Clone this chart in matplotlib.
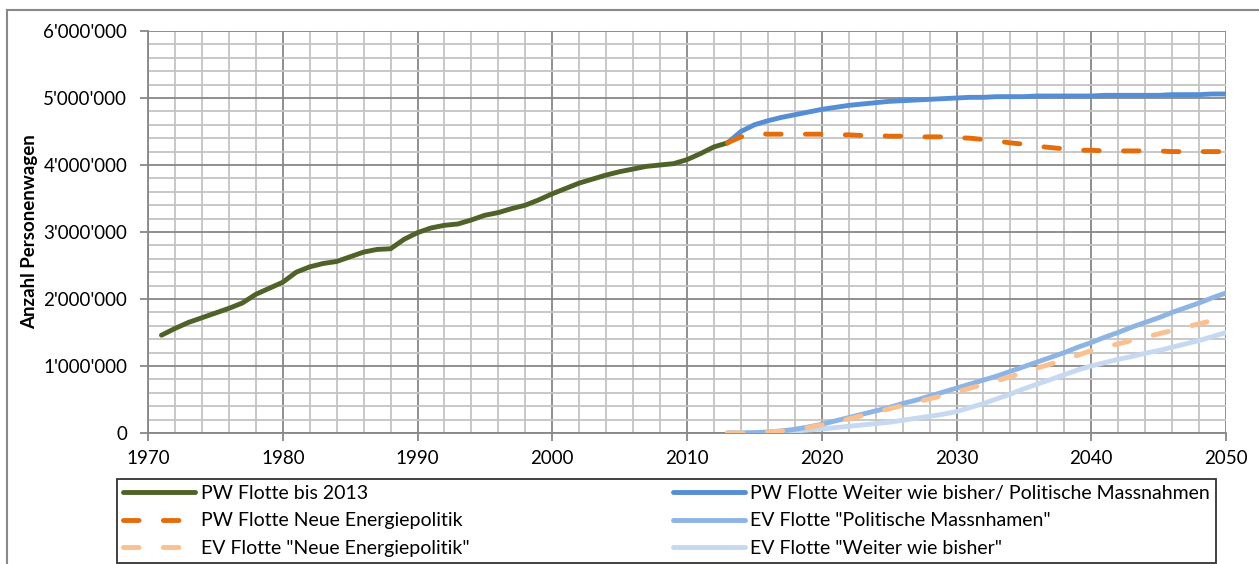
import numpy as np
import matplotlib
matplotlib.use("Agg")
import matplotlib.pyplot as plt
from matplotlib.ticker import FuncFormatter, MultipleLocator
from matplotlib.lines import Line2D

plt.rcParams['font.family'] = ['Lato', 'DejaVu Sans']

# historic fleet 1971-2013
hist_years = list(range(1971, 2014))
hist_fleet = [1.46, 1.56, 1.65, 1.72, 1.79, 1.86, 1.94, 2.07, 2.16, 2.25,
              2.40, 2.48, 2.53, 2.56, 2.63, 2.70, 2.74, 2.75, 2.89, 2.99,
              3.06, 3.10, 3.12, 3.18, 3.25, 3.29, 3.35, 3.40, 3.48, 3.57,
              3.65, 3.73, 3.79, 3.85, 3.90, 3.94, 3.98, 4.00, 4.02, 4.08,
              4.17, 4.27, 4.33]

# scenarios 2013-2050
proj_years = list(range(2013, 2051))
pw_weiter = [4.33, 4.50, 4.60, 4.66, 4.71, 4.75, 4.79, 4.83, 4.86, 4.89,
             4.91, 4.93, 4.95, 4.96, 4.97, 4.98, 4.99, 5.00, 5.01, 5.01,
             5.02, 5.02, 5.02, 5.03, 5.03, 5.03, 5.03, 5.03, 5.04, 5.04,
             5.04, 5.04, 5.04, 5.05, 5.05, 5.05, 5.06, 5.06]
pw_neue = [4.33, 4.42, 4.47, 4.46, 4.46, 4.46, 4.46, 4.46, 4.45, 4.45,
           4.44, 4.44, 4.43, 4.43, 4.42, 4.42, 4.42, 4.41, 4.40, 4.38,
           4.36, 4.33, 4.31, 4.28, 4.26, 4.24, 4.22, 4.22, 4.21, 4.21,
           4.21, 4.21, 4.21, 4.20, 4.20, 4.20, 4.20, 4.20]
ev_polit = [0.0, 0.0, 0.005, 0.015, 0.03, 0.055, 0.09, 0.13, 0.18, 0.23,
            0.28, 0.33, 0.38, 0.44, 0.49, 0.55, 0.61, 0.67, 0.73, 0.79,
            0.85, 0.92, 0.99, 1.06, 1.13, 1.20, 1.28, 1.35, 1.43, 1.50,
            1.58, 1.65, 1.72, 1.80, 1.87, 1.94, 2.02, 2.09]
ev_neue = [0.0, 0.0, 0.005, 0.015, 0.03, 0.05, 0.085, 0.12, 0.165, 0.21,
           0.26, 0.31, 0.36, 0.41, 0.46, 0.51, 0.56, 0.61, 0.67, 0.72,
           0.78, 0.84, 0.905, 0.97, 1.03, 1.10, 1.16, 1.23, 1.28, 1.33,
           1.38, 1.43, 1.48, 1.53, 1.58, 1.63, 1.68, 1.72]
ev_weiter = [0.0, 0.0, 0.005, 0.01, 0.02, 0.03, 0.045, 0.06, 0.08, 0.10,
             0.12, 0.14, 0.16, 0.19, 0.22, 0.25, 0.28, 0.32, 0.38, 0.44,
             0.51, 0.58, 0.66, 0.73, 0.80, 0.87, 0.94, 1.00, 1.05, 1.10,
             1.14, 1.19, 1.23, 1.28, 1.33, 1.38, 1.44, 1.50]

labels = ['PW Flotte bis 2013',
          'PW Flotte Neue Energiepolitik',
          'EV Flotte "Neue Energiepolitik"',
          'PW Flotte Weiter wie bisher/ Politische Massnahmen',
          'EV Flotte "Politische Massnhamen"',
          'EV Flotte "Weiter wie bisher"']
colors = ['#4F6228', '#E46C0A', '#FAC090', '#558ED5', '#8EB4E3', '#C6D9F1']

M = 1e6
fig = plt.figure(figsize=(12.59, 5.64), dpi=100)
# outer chart frame (top and left edge only)
fig.add_artist(Line2D([7/1259, 7/1259], [0, 1 - 10/564], color='#888888', lw=1.5))
fig.add_artist(Line2D([7/1259, 1], [1 - 10/564, 1 - 10/564], color='#888888', lw=1.5))

ax = fig.add_axes([148/1259, 1 - 433/564, (1226 - 148)/1259, (433 - 31)/564])

lw = 3.5
dash_kw = dict(linestyle=(0, (3.2, 5.0)), dash_capstyle='round')
ax.plot(hist_years, np.array(hist_fleet) * M, color=colors[0], lw=lw, solid_capstyle='round', zorder=5)
ax.plot(proj_years, np.array(pw_weiter) * M, color=colors[3], lw=lw, solid_capstyle='round', zorder=4)
ax.plot(proj_years, np.array(pw_neue) * M, color=colors[1], lw=lw, zorder=6, **dash_kw)
ax.plot(proj_years, np.array(ev_weiter) * M, color=colors[5], lw=lw, solid_capstyle='round', zorder=4)
ax.plot(proj_years, np.array(ev_polit) * M, color=colors[4], lw=lw, solid_capstyle='round', zorder=4)
ax.plot(proj_years, np.array(ev_neue) * M, color=colors[2], lw=lw, zorder=5, **dash_kw)

ax.set_xlim(1970, 2050)
ax.set_ylim(0, 6 * M)
ax.xaxis.set_major_locator(MultipleLocator(10))
ax.xaxis.set_minor_locator(MultipleLocator(2))
ax.yaxis.set_major_locator(MultipleLocator(M))
ax.yaxis.set_minor_locator(MultipleLocator(0.2 * M))
ax.yaxis.set_major_formatter(FuncFormatter(lambda v, p: '0' if v == 0 else f"{int(v):,}".replace(',', "'")))

ax.grid(which='major', color='#878787', lw=1.3, zorder=0)
ax.grid(which='minor', color='#C4C4C4', lw=1.3, zorder=0)
ax.set_axisbelow(True)
for side in ['top', 'right']:
    ax.spines[side].set_visible(False)
for side in ['left', 'bottom']:
    ax.spines[side].set_color('#878787')
    ax.spines[side].set_linewidth(1.3)

ax.tick_params(which='major', length=6, width=1.3, color='#878787', labelsize=13.5, labelcolor='black')
ax.tick_params(which='minor', length=0)
ax.tick_params(axis='x', pad=6)
ax.tick_params(axis='y', pad=9)

ax.set_ylabel('Anzahl Personenwagen', fontsize=13.5, fontweight='bold', labelpad=4)

handles = [
    Line2D([], [], color=colors[0], lw=lw, solid_capstyle='round'),
    Line2D([], [], color=colors[1], lw=lw, **dash_kw),
    Line2D([], [], color=colors[2], lw=lw, **dash_kw),
    Line2D([], [], color=colors[3], lw=lw, solid_capstyle='round'),
    Line2D([], [], color=colors[4], lw=lw, solid_capstyle='round'),
    Line2D([], [], color=colors[5], lw=lw, solid_capstyle='round'),
]
leg = fig.legend(handles, labels, ncol=2, mode='expand',
                 bbox_to_anchor=(117/1259, 1/564, (1216 - 117)/1259, 88/564),
                 loc='lower left', fontsize=14, handlelength=3.7, handletextpad=0.3,
                 borderpad=0.3, labelspacing=0.55, borderaxespad=0,
                 frameon=True, fancybox=False, edgecolor='black')
leg.get_frame().set_linewidth(1.3)

fig.savefig('out.png', dpi=100)
